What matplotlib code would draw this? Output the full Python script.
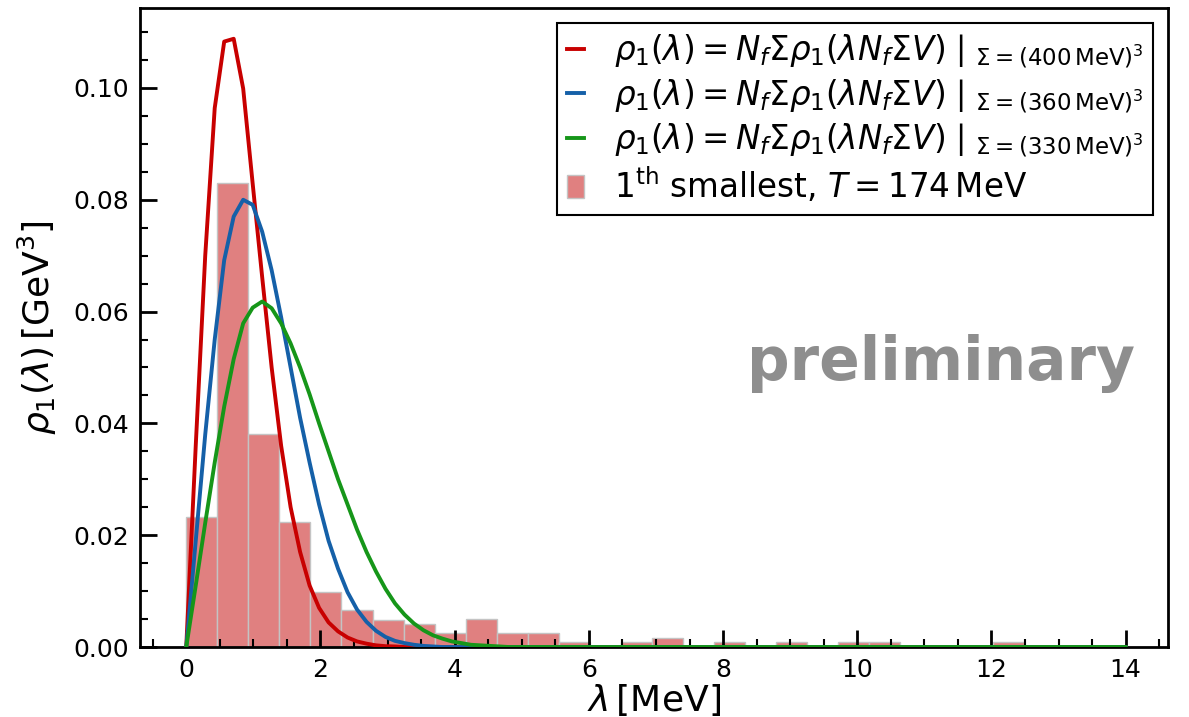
import numpy as np
import matplotlib
matplotlib.use("Agg")
import matplotlib.pyplot as plt
from matplotlib.ticker import MultipleLocator
from matplotlib.lines import Line2D
from matplotlib.patches import Patch

# eigenvalue grid (MeV) on which the RMT curves are tabulated
lam_grid = np.linspace(0.0, 14.0, 100)

# rho_1(lambda) [GeV^3] for the three condensate values (leading grid points; tail is zero)
rho_400 = [0.0, 0.036, 0.070, 0.0964, 0.1083, 0.1088, 0.0999, 0.0829, 0.0662, 0.0500,
           0.0360, 0.0250, 0.0170, 0.0110, 0.0070, 0.0044, 0.0028, 0.0017, 0.0010, 0.0006,
           0.0003, 0.00015, 0.0001]
rho_360 = [0.0, 0.019, 0.038, 0.055, 0.0692, 0.0770, 0.0800, 0.0791, 0.0743, 0.0674,
           0.0590, 0.0500, 0.0410, 0.0330, 0.0255, 0.0190, 0.0140, 0.0098, 0.0067, 0.0045,
           0.0029, 0.0018, 0.0011, 0.0007, 0.0004, 0.0002, 0.0001]
rho_330 = [0.0, 0.0110, 0.0222, 0.0330, 0.0430, 0.0515, 0.0579, 0.0607, 0.0618, 0.0606,
           0.0579, 0.0543, 0.0500, 0.0452, 0.0400, 0.0350, 0.0300, 0.0255, 0.0210, 0.0170,
           0.0135, 0.0104, 0.0078, 0.0058, 0.0042, 0.0030, 0.0021, 0.0015, 0.0010, 0.0007,
           0.0004, 0.0003, 0.0002, 0.0001]

# histogram of the smallest Dirac eigenvalue, T = 174 MeV
bin_edges = np.linspace(0.0, 13.88, 31)
hist_heights = [0.0232, 0.0830, 0.0381, 0.0224, 0.0099, 0.0066, 0.0049, 0.0041, 0.00245, 0.00495,
                0.00245, 0.00245, 0.00082, 0.0, 0.00082, 0.00165, 0.0, 0.00082, 0.0, 0.00082,
                0.0, 0.00082, 0.00082, 0.0, 0.0, 0.0, 0.00082, 0.0, 0.0, 0.0]

sigma_labels = ["400", "360", "330"]
curve_colors = ["#c80000", "#1560a8", "#169619"]
hist_color = "#e08080"
hist_edge = "#c4c4c4"


def pad(vals):
    out = np.zeros(len(lam_grid))
    out[:len(vals)] = vals
    return out


fig = plt.figure(figsize=(11.89, 7.17), dpi=100)
ax = fig.add_axes([0.1177, 0.0976, 0.8646, 0.8912])

heights = np.array(hist_heights)
widths = np.diff(bin_edges)
mask = heights > 0
ax.bar(bin_edges[:-1][mask], heights[mask], width=widths[mask], align="edge",
       color=hist_color, edgecolor=hist_edge, linewidth=1.0, zorder=1)

handles = []
for vals, sig, col in zip([rho_400, rho_360, rho_330], sigma_labels, curve_colors):
    ax.plot(lam_grid, pad(vals), color=col, lw=2.8, zorder=3)
    lab = (r"$\rho_1(\lambda) = N_f\Sigma\rho_1(\lambda N_f\Sigma V)\mid_{\Sigma=(%s\,\mathrm{MeV})^3}$"
           % sig)
    handles.append(Line2D([], [], color=col, lw=2.8, label=lab))
handles.append(Patch(facecolor=hist_color, edgecolor=hist_edge,
                     label=r"$1^{\mathrm{th}}$ smallest, $T = 174\,\mathrm{MeV}$"))

ax.set_xlim(-0.69, 14.63)
ax.set_ylim(0.0, 0.1143)

ax.xaxis.set_major_locator(MultipleLocator(2))
ax.xaxis.set_minor_locator(MultipleLocator(0.5))
ax.yaxis.set_major_locator(MultipleLocator(0.02))
ax.yaxis.set_minor_locator(MultipleLocator(0.005))
ax.tick_params(which="both", direction="in", top=False, right=False, labelsize=18)
ax.tick_params(which="major", length=12, width=2.0, pad=8)
ax.tick_params(which="minor", length=6, width=1.5)
for sp in ax.spines.values():
    sp.set_linewidth(2.0)

ax.set_xlabel(r"$\lambda\,[\mathrm{MeV}]$", fontsize=26, labelpad=0)
ax.set_ylabel(r"$\rho_1(\lambda)\,[\mathrm{GeV}^3]$", fontsize=26, labelpad=10)

leg = ax.legend(handles=handles, loc="upper right", fontsize=23.5, frameon=True,
                fancybox=False, framealpha=1.0, edgecolor="black", handlelength=0.55,
                handletextpad=0.9, borderaxespad=0.45, labelspacing=0.2, borderpad=0.3)
leg.get_frame().set_linewidth(1.5)

ax.text(0.968, 0.418, "preliminary", transform=ax.transAxes, ha="right", va="baseline",
        fontsize=43, fontweight="bold", color="#8e8e8e", zorder=5)

fig.savefig("out.png", dpi=100)
